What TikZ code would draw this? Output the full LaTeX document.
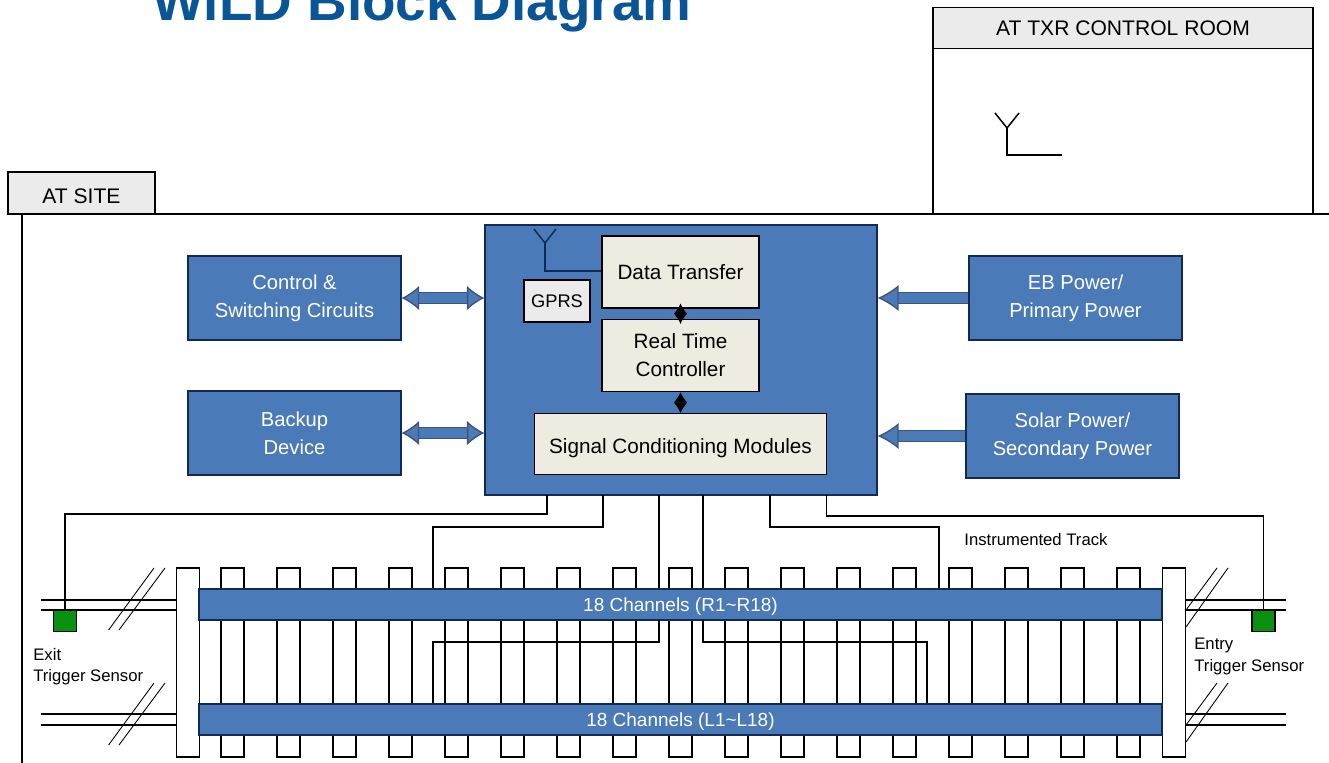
\documentclass[tikz,border=0pt]{standalone}
\usepackage{fontspec}
\setmainfont{Liberation Sans}
\usetikzlibrary{positioning, arrows.meta}
\definecolor{azulk}{RGB}{74, 122, 184}
\definecolor{bordek}{RGB}{16, 42, 84}
\definecolor{cremak}{RGB}{238, 236, 225}
\definecolor{grisk}{RGB}{235, 235, 235}
\definecolor{verdek}{RGB}{8, 145, 14}
\definecolor{titulok}{RGB}{10, 85, 150}
\tikzset{
  bluebox/.style={draw=bordek,fill=azulk,line width=0.7pt,text=white,align=center,font=\fontsize{11.5}{16}\selectfont,inner sep=0pt},
  creambox/.style={draw=black,fill=cremak,line width=0.8pt,align=center,font=\fontsize{11.8}{16}\selectfont,inner sep=0pt},
  tabbox/.style={draw=black,fill=grisk,line width=0.7pt,font=\fontsize{12}{14}\selectfont,inner sep=0pt},
  tie/.style={draw=black,fill=white,line width=0.8pt,inner sep=0pt,minimum width=0.46cm},
  sensor/.style={draw=black,fill=verdek,line width=0.6pt,inner sep=0pt,minimum width=0.46cm,minimum height=0.42cm},
  wire/.style={draw=black,line width=0.85pt},
  rail/.style={draw=black,line width=0.8pt},
  hatch/.style={draw=black,line width=0.5pt},
  pipe/.style={draw=bordek!80,double=azulk,double distance=5.5pt,line width=0.8pt},
  blobarrow/.style={black,line width=1.2pt,{Latex[length=6pt,width=8pt]}-{Latex[length=6pt,width=8pt]}},
  smalllabel/.style={font=\fontsize{9.5}{11}\selectfont,inner sep=0pt,anchor=west}
}
\begin{document}
\begin{tikzpicture}[x=0.02cm,y=-0.02cm]
  \clip (0,0) rectangle (1329,763);
  \useasboundingbox (0,0) rectangle (1329,763);
  \fill[white] (0,0) rectangle (1329,763);
  \node[font=\bfseries\fontsize{31.2}{32}\selectfont,text=titulok,anchor=base] (title) at (422,21) {WiLD Block Diagram};
  % control room
  \node[draw=black,line width=0.7pt,minimum width=7.6cm,minimum height=3.32cm,inner sep=0pt] (room) at (1123,131) {};
  \node[tabbox,minimum width=7.6cm,minimum height=0.82cm] (roomhead) at (1123,28) {AT TXR CONTROL ROOM};
  \coordinate (roomtip) at (1007,128);
  \coordinate (roomend) at (1062,155);
  \draw[wire] (995,113) -- (roomtip) -- (1019,113);
  \draw[wire] (roomtip) |- (roomend);
  % site frame
  \node[tabbox,minimum width=2.94cm,minimum height=0.84cm] (site) at (81.5,193) {\rule{0pt}{12pt}AT SITE};
  \coordinate (frameright) at (1329,214);
  \coordinate (frameleft) at (22,214);
  \coordinate (framebottom) at (22,763);
  \draw[wire] (frameright) -- (frameleft) -- (framebottom);
  % ties and rails
  \foreach \i in {0,...,16}
    \node[tie,minimum height=3.78cm] (tie\i) at ({232.5+56*\i},662.5) {};
  \node[tie,minimum height=3.78cm] (endl) at (188,662.5) {};
  \node[tie,minimum height=3.78cm] (endr) at (1174,662.5) {};
  \node[bluebox,font=\fontsize{10.8}{13}\selectfont,minimum width=19.26cm,minimum height=0.62cm] (chr) at (680.5,604.5) {\rule{0pt}{10pt}18 Channels (R1\textasciitilde R18)};
  \node[bluebox,font=\fontsize{10.8}{13}\selectfont,minimum width=19.26cm,minimum height=0.62cm] (chl) at (680.5,719.5) {\rule{0pt}{10pt}18 Channels (L1\textasciitilde L18)};
  \foreach \y in {600,610,714,725} {
    \coordinate (railla) at (41,\y);
    \coordinate (railra) at (1286,\y);
    \draw[rail] (railla) -- (endl.west |- railla);
    \draw[rail] (endr.east |- railra) -- (railra);
  }
  \foreach \y in {0,115} {
    \draw[hatch] (154,568+\y) -- (108.6,630+\y);
    \draw[hatch] (165,568+\y) -- (119,630+\y);
    \draw[hatch] (1217,568+\y) -- (1186,610+\y);
    \draw[hatch] (1228,568+\y) -- (1186,627+\y);
  }
  \node[sensor] (senl) at (65,621) {};
  \node[sensor] (senr) at (1263.5,621) {};
  % blocks
  \node[bluebox,minimum width=7.84cm,minimum height=5.4cm] (main) at (681,360) {};
  \node[bluebox,minimum width=4.26cm,minimum height=1.68cm] (ctrl) at (294.5,298) {Control \&\\Switching Circuits};
  \node[bluebox,minimum width=4.26cm,minimum height=1.68cm] (back) at (294.5,433) {Backup\\Device};
  \node[bluebox,minimum width=4.26cm,minimum height=1.68cm] (ebp) at (1075.5,298) {EB Power/\\Primary Power};
  \node[bluebox,minimum width=4.26cm,minimum height=1.68cm] (sol) at (1072.5,436) {Solar Power/\\Secondary Power};
  \node[creambox,minimum width=3.14cm,minimum height=1.44cm] (data) at (680.5,272) {Data Transfer};
  \node[creambox,minimum width=3.14cm,minimum height=1.44cm,below=0.2cm of data] (rtc) {Real Time\\Controller};
  \node[creambox,minimum width=5.84cm,minimum height=1.22cm,below=0.42cm of rtc] (sig) {\rule{0pt}{12.5pt}Signal Conditioning Modules};
  \node[creambox,fill=grisk,font=\fontsize{10.4}{12}\selectfont,minimum width=1.32cm,minimum height=0.84cm] (gprs) at (557,301) {GPRS};
  \draw[blobarrow,shorten >=-3pt,shorten <=-3pt] (data) -- (rtc);
  \draw[blobarrow] (rtc) -- (sig);
  \coordinate (anttip) at (545,243);
  \draw[wire,draw=bordek] (534,229) -- (anttip) -- (556,229);
  \draw[wire,draw=bordek] (anttip) |- (data.west |- 0,271);
  % block arrows
  \draw[pipe,{Latex[length=10pt,width=14pt,fill=azulk]}-{Latex[length=10pt,width=14pt,fill=azulk]}] (ctrl.east) -- (main.west |- ctrl.east);
  \draw[pipe,{Latex[length=10pt,width=14pt,fill=azulk]}-{Latex[length=10pt,width=14pt,fill=azulk]}] (back.east) -- (main.west |- back.east);
  \draw[pipe,-{Latex[length=12pt,width=15pt,fill=azulk]}] (ebp.west) -- (main.east |- ebp.west);
  \draw[pipe,-{Latex[length=12pt,width=15pt,fill=azulk]}] (sol.west) -- (main.east |- sol.west);
  % channel wires
  \draw[wire] (547,495) |- (senl.north |- 0,514) -- (senl.north);
  \draw[wire] (603,495) |- (433,527) -- (chr.north -| 433,0);
  \draw[wire] (659,495) -- (chr.north -| 659,0);
  \draw[wire] (659,620) |- (433,642) -- (chl.north -| 433,0);
  \draw[wire] (703,495) -- (chr.north -| 703,0);
  \draw[wire] (703,620) |- (927,642) -- (chl.north -| 927,0);
  \draw[wire] (770,495) |- (939,527) -- (chr.north -| 939,0);
  \draw[wire] (826.5,495) |- (senr.north |- 0,516) -- (senr.north);
  % labels
  \node[smalllabel] (trk) at (964,540) {Instrumented Track};
  \node[smalllabel] (exl) at (33,655) {Exit};
  \node[smalllabel] (trl) at (33,677) {Trigger Sensor};
  \node[smalllabel] (enl) at (1194,645) {Entry};
  \node[smalllabel] (trr) at (1194,667) {Trigger Sensor};
\end{tikzpicture}
\end{document}
